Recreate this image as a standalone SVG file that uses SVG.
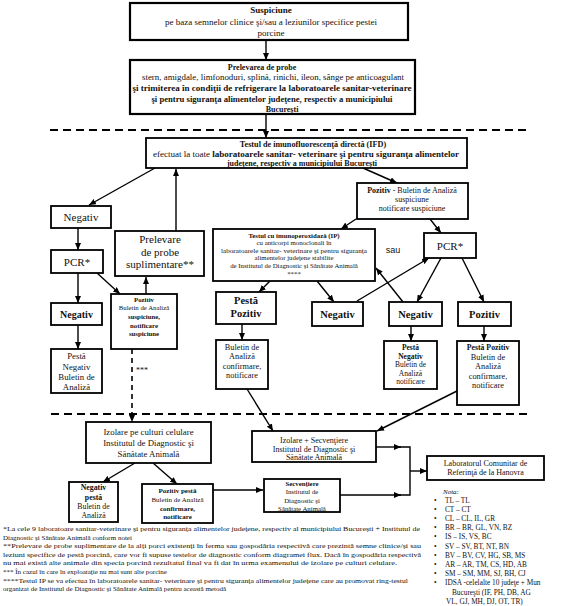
<svg xmlns="http://www.w3.org/2000/svg" width="565" height="606" viewBox="0 0 565 606">
<style>
.bx{fill:#fff;stroke:#000;stroke-width:1.8}
.bx2{fill:#fff;stroke:#000;stroke-width:2.2}
.t{font-family:"Liberation Serif","Times New Roman",serif;fill:#111;text-anchor:middle}
.s{font-family:"Liberation Sans",Arial,sans-serif;fill:#111;text-anchor:middle}
.l{text-anchor:start}
.b{font-weight:bold}
.c{stroke:#000;stroke-width:1.4;fill:none;marker-end:url(#ah)}
.p{stroke:#000;stroke-width:1.4;fill:none}
.d{stroke:#000;stroke-width:2;stroke-dasharray:8 5;fill:none}
.dv{stroke:#000;stroke-width:1.6;stroke-dasharray:5 4;fill:none;marker-end:url(#ah)}
</style>
<defs>
<marker id="ah" markerWidth="7" markerHeight="6" refX="7" refY="3" orient="auto" markerUnits="userSpaceOnUse">
<path d="M0,0 L7,3 L0,6 z" fill="#000"/>
</marker>
</defs>
<rect width="565" height="606" fill="#fff"/>

<g id="connectors">
<line class="c" x1="266" y1="40" x2="266" y2="60"/>
<line class="c" x1="266" y1="114" x2="266" y2="138"/>
<line class="d" x1="50" y1="130" x2="527" y2="130"/>
<line class="c" x1="155" y1="168" x2="89" y2="205"/>
<line class="c" x1="363" y1="168" x2="397" y2="183"/>
<line class="c" x1="176" y1="231" x2="176" y2="169"/>
<line class="c" x1="356" y1="219" x2="341" y2="229"/>
<line class="c" x1="430" y1="219" x2="441" y2="233"/>
<line class="c" x1="78" y1="228" x2="78" y2="250"/>
<line class="c" x1="78" y1="273" x2="78" y2="303"/>
<line class="c" x1="97" y1="273" x2="120" y2="294"/>
<line class="c" x1="146" y1="294" x2="146" y2="277"/>
<line class="c" x1="78" y1="325" x2="78" y2="349"/>
<line class="dv" x1="132" y1="349" x2="132" y2="422"/>
<line class="c" x1="270" y1="281" x2="259" y2="292"/>
<line class="c" x1="242" y1="324" x2="242" y2="340"/>
<line class="c" x1="317" y1="281" x2="334" y2="302"/>
<line class="c" x1="357" y1="301" x2="429" y2="258"/>
<line class="c" x1="403" y1="302" x2="376" y2="268"/>
<line class="c" x1="441" y1="258" x2="417" y2="302"/>
<line class="c" x1="462" y1="258" x2="484" y2="302"/>
<line class="c" x1="411" y1="326" x2="411" y2="341"/>
<line class="c" x1="484" y1="326" x2="484" y2="341"/>
<line class="c" x1="457" y1="391" x2="377" y2="431"/>
<line class="c" x1="247" y1="389" x2="273" y2="431"/>
<line class="d" x1="51" y1="414" x2="528" y2="414"/>
<line class="c" x1="135" y1="463" x2="103" y2="482"/>
<line class="c" x1="153" y1="463" x2="177" y2="484"/>
<line class="c" x1="213" y1="490" x2="263" y2="490"/>
<line class="c" x1="376" y1="447" x2="401" y2="447"/>
<line class="c" x1="340" y1="495" x2="401" y2="495"/>
<polyline class="p" points="398,447 410,447 410,495 398,495"/>
<line class="c" x1="410" y1="471" x2="427" y2="471"/>
<text class="t" x="142" y="373" font-size="8">***</text>
<text class="s" x="393" y="253" font-size="9">sau</text>
</g>

<g id="suspiciune">
<rect class="bx2" x="130" y="3" width="278" height="37"/>
<text class="t b" x="271" y="13" font-size="9">Suspiciune</text>
<text class="t" x="271" y="25" font-size="9">pe baza semnelor clinice şi/sau a leziunilor  specifice pestei</text>
<text class="t" x="271" y="36" font-size="9">porcine</text>
</g>

<g id="prelevarea">
<rect class="bx2" x="130" y="60" width="285" height="54"/>
<text class="t b" x="262" y="70" font-size="8">Prelevarea de probe</text>
<text class="t" x="273" y="80" font-size="8" textLength="262" lengthAdjust="spacingAndGlyphs">stern, amigdale, limfonoduri, splină, rinichi, ileon, sânge pe anticoagulant</text>
<text class="t b" x="272" y="91" font-size="8" textLength="279" lengthAdjust="spacingAndGlyphs">şi trimiterea în condiţii de refrigerare la laboratoarele sanitar-veterinare</text>
<text class="t b" x="272" y="102" font-size="8" textLength="241" lengthAdjust="spacingAndGlyphs">şi pentru siguranţa alimentelor judeţene, respectiv a municipiului</text>
<text class="t b" x="282" y="112" font-size="8">Bucureşti</text>
</g>

<g id="ifd">
<rect class="bx" x="146" y="138" width="321" height="30"/>
<text class="t b" x="313" y="147" font-size="8.2">Testul de imunofluorescenţă directă (IFD)</text>
<text class="t l" x="153" y="156.5" font-size="8" textLength="306" lengthAdjust="spacingAndGlyphs">efectuat la toate <tspan class="b">laboratoarele sanitar- veterinare şi pentru siguranţa alimentelor</tspan></text>
<text class="t b" x="302" y="166" font-size="8">judeţene, respectiv a municipiului Bucureşti</text>
</g>

<g id="negativ1">
<rect class="bx" x="51" y="206" width="60" height="22"/>
<text class="t" x="81" y="221" font-size="11">Negativ</text>
</g>

<g id="pozitiv1">
<rect class="bx" x="357" y="183" width="111" height="36"/>
<text class="t" x="412" y="193" font-size="8"><tspan class="b">Pozitiv</tspan>  - Buletin de Analiză</text>
<text class="t" x="412" y="202" font-size="8">suspiciune</text>
<text class="t" x="412" y="211" font-size="8">notificare suspiciune</text>
</g>

<g id="prelevare-suplimentare">
<rect class="bx" x="115" y="231" width="89" height="45"/>
<text class="t" x="160" y="243" font-size="11">Prelevare</text>
<text class="t" x="160" y="256" font-size="11">de probe</text>
<text class="t" x="160" y="268" font-size="11">suplimentare**</text>
</g>

<g id="pcr1">
<rect class="bx" x="51" y="250" width="52" height="23"/>
<text class="t" x="77" y="266" font-size="11">PCR*</text>
</g>

<g id="ip">
<rect class="bx" x="213" y="229" width="162" height="52"/>
<text class="t b" x="294" y="237.5" font-size="6.8">Testul cu imunoperoxidază (IP)</text>
<text class="t" x="294" y="245" font-size="6.8">cu anticorpi monoclonali în</text>
<text class="t" x="294" y="252.5" font-size="6.8" textLength="146" lengthAdjust="spacingAndGlyphs">laboratoarele sanitar- veterinare şi pentru siguranţa</text>
<text class="t" x="294" y="260" font-size="6.8">alimentelor judeţene stabilite</text>
<text class="t" x="294" y="268" font-size="6.8">de Institutul de Diagnostic şi Sănătate Animală</text>
<text class="t" x="294" y="276" font-size="6.8">****</text>
</g>

<g id="pcr2">
<rect class="bx" x="424" y="233" width="52" height="25"/>
<text class="t" x="450" y="250" font-size="11">PCR*</text>
</g>

<g id="negativ2">
<rect class="bx" x="51" y="303" width="51" height="22"/>
<text class="t b" x="76.5" y="318" font-size="10">Negativ</text>
</g>

<g id="pozitiv-suspiciune">
<rect class="bx" x="111" y="294" width="66" height="55"/>
<text class="t b" x="144" y="302" font-size="6.8">Pozitiv</text>
<text class="t" x="144" y="310" font-size="6.8">Buletin de Analiză</text>
<text class="t b" x="144" y="318.5" font-size="6.8">suspiciune,</text>
<text class="t b" x="144" y="327.5" font-size="6.8">notificare</text>
<text class="t b" x="144" y="335.5" font-size="6.8">suspiciune</text>
</g>

<g id="pesta-negativ1">
<rect class="bx" x="51" y="349" width="51" height="44"/>
<text class="t" x="76.5" y="359" font-size="8.8">Pestă</text>
<text class="t" x="76.5" y="369.5" font-size="8.8">Negativ</text>
<text class="t" x="76.5" y="379.5" font-size="8.8">Buletin de</text>
<text class="t" x="76.5" y="389.5" font-size="8.8">Analiză</text>
</g>

<g id="pesta-pozitiv1">
<rect class="bx" x="216" y="292" width="60" height="32"/>
<text class="t b" x="246" y="304" font-size="10.5">Pestă</text>
<text class="t b" x="246" y="316.5" font-size="10.5">Pozitiv</text>
</g>

<g id="buletin-confirmare1">
<rect class="bx" x="216" y="340" width="52" height="49"/>
<text class="t" x="242" y="350" font-size="8.3">Buletin de</text>
<text class="t" x="242" y="359" font-size="8.3">Analiză</text>
<text class="t" x="242" y="369" font-size="8.3">confirmare,</text>
<text class="t" x="242" y="378" font-size="8.3">notificare</text>
</g>

<g id="negativ-a">
<rect class="bx" x="312" y="302" width="51" height="24"/>
<text class="t b" x="337.5" y="318" font-size="10.5">Negativ</text>
</g>

<g id="negativ-b">
<rect class="bx" x="389" y="302" width="53" height="24"/>
<text class="t b" x="415.5" y="318" font-size="10.5">Negativ</text>
</g>

<g id="pozitiv2">
<rect class="bx" x="458" y="302" width="53" height="24"/>
<text class="t b" x="484.5" y="318" font-size="10.5">Pozitiv</text>
</g>

<g id="pesta-negativ2">
<rect class="bx" x="384" y="341" width="53" height="48"/>
<text class="t b" x="410.5" y="350" font-size="7.5">Pestă</text>
<text class="t b" x="410.5" y="358.5" font-size="7.5">Negativ</text>
<text class="t" x="410.5" y="367" font-size="7.5">Buletin de</text>
<text class="t" x="410.5" y="375.5" font-size="7.5">Analiză</text>
<text class="t" x="410.5" y="384" font-size="7.5">notificare</text>
</g>

<g id="pesta-pozitiv2">
<rect class="bx" x="457" y="341" width="62" height="64"/>
<text class="t b" x="488" y="350" font-size="7.8">Pestă Pozitiv</text>
<text class="t" x="488" y="360" font-size="8.3">Buletin de</text>
<text class="t" x="488" y="369" font-size="8.3">Analiză</text>
<text class="t" x="488" y="379" font-size="8.3">confirmare,</text>
<text class="t" x="488" y="388" font-size="8.3">notificare</text>
</g>

<g id="izolare-culturi">
<rect class="bx" x="86" y="422" width="125" height="41"/>
<text class="t" x="148.5" y="435" font-size="8.8">Izolare pe culturi celulare</text>
<text class="t" x="148.5" y="446" font-size="8.8">Institutul de Diagnostic şi</text>
<text class="t" x="148.5" y="456.5" font-size="8.8">Sănătate Animală</text>
</g>

<g id="izolare-secventiere">
<rect class="bx" x="252" y="431" width="124" height="31"/>
<text class="t" x="314" y="443" font-size="8">Izolare + Secvenţiere</text>
<text class="t" x="314" y="451.5" font-size="8">Institutul de Diagnostic şi</text>
<text class="t" x="314" y="460" font-size="8">Sănătate Animală</text>
</g>

<g id="negativ-pesta">
<rect class="bx" x="69" y="482" width="49" height="40"/>
<text class="t b" x="93.5" y="490" font-size="7.8">Negativ</text>
<text class="t b" x="93.5" y="499.5" font-size="7.8">pestă</text>
<text class="t" x="93.5" y="509" font-size="7.8">Buletin de</text>
<text class="t" x="93.5" y="518" font-size="7.8">Analiză</text>
</g>

<g id="pozitiv-pesta">
<rect class="bx" x="142" y="484" width="71" height="39"/>
<text class="t b" x="177.5" y="493" font-size="7">Pozitiv pestă</text>
<text class="t" x="177.5" y="501.5" font-size="7">Buletin de Analiză</text>
<text class="t b" x="177.5" y="510.5" font-size="7">confirmare,</text>
<text class="t b" x="177.5" y="519" font-size="7">notificare</text>
</g>

<g id="secventiere">
<rect class="bx" x="264" y="479" width="76" height="33"/>
<text class="t b" x="302" y="486" font-size="6.8">Secvenţiere</text>
<text class="t" x="302" y="494" font-size="6.8">Institutul de</text>
<text class="t" x="302" y="502.5" font-size="6.8">Diagnostic şi</text>
<text class="t" x="302" y="510.5" font-size="6.8">Sănătate Animală</text>
</g>

<g id="laborator-hanovra">
<rect class="bx" x="427" y="456" width="117" height="24"/>
<text class="t" x="485.5" y="465.5" font-size="8">Laboratorul Comunitar de</text>
<text class="t" x="485.5" y="475" font-size="8">Referinţă de la Hanovra</text>
</g>

<g id="nota">
<text class="t l" x="443" y="494" font-style="italic" font-size="7">Nota:</text>
<text class="t l" x="434" y="502.5" font-size="7.3">•</text><text class="t l" x="445" y="502.5" font-size="7.3">TL – TL</text>
<text class="t l" x="434" y="511.7" font-size="7.3">•</text><text class="t l" x="445" y="511.7" font-size="7.3">CT – CT</text>
<text class="t l" x="434" y="520.9" font-size="7.3">•</text><text class="t l" x="445" y="520.9" font-size="7.3">CL – CL, IL, GR</text>
<text class="t l" x="434" y="530.1" font-size="7.3">•</text><text class="t l" x="445" y="530.1" font-size="7.3">BR – BR, GL, VN, BZ</text>
<text class="t l" x="434" y="539.3" font-size="7.3">•</text><text class="t l" x="445" y="539.3" font-size="7.3">IS – IS, VS, BC</text>
<text class="t l" x="434" y="548.5" font-size="7.3">•</text><text class="t l" x="445" y="548.5" font-size="7.3">SV – SV, BT, NT, BN</text>
<text class="t l" x="434" y="557.7" font-size="7.3">•</text><text class="t l" x="445" y="557.7" font-size="7.3">BV – BV, CV, HG, SB, MS</text>
<text class="t l" x="434" y="566.9" font-size="7.3">•</text><text class="t l" x="445" y="566.9" font-size="7.3">AR – AR, TM, CS, HD, AB</text>
<text class="t l" x="434" y="576.1" font-size="7.3">•</text><text class="t l" x="445" y="576.1" font-size="7.3">SM – SM, MM, SJ, BH, CJ</text>
<text class="t l" x="434" y="585.3" font-size="7.3">•</text><text class="t l" x="445" y="585.3" font-size="7.3">IDSA -celelalte 10 judeţe + Mun</text>
<text class="t l" x="452" y="594.5" font-size="7.3">Bucureşti  (IF,  PH,  DB, AG</text>
<text class="t l" x="446" y="603.7" font-size="7.3">VL, GJ, MH, DJ, OT, TR)</text>
</g>

<g id="footnotes">
<text class="t l" x="3" y="531" font-size="7" textLength="417" lengthAdjust="spacingAndGlyphs">*La cele 9 laboratoare sanitar-veterinare şi pentru siguranţa alimentelor judeţene, respectiv al municipiului Bucureşti + Institutul de</text>
<text class="t l" x="3" y="539.5" font-size="7">Diagnostic şi Sănătate Animală conform notei</text>
<text class="t l" x="3" y="548" font-size="7" textLength="418" lengthAdjust="spacingAndGlyphs">**Prelevare de probe suplimentare de la alţi porci existenţi în ferma sau gospodăria respectivă care prezintă semne clinice/şi sau</text>
<text class="t l" x="3" y="556.5" font-size="7" textLength="418" lengthAdjust="spacingAndGlyphs">leziuni specifice de pestă porcină, care vor fi supuse testelor de diagnostic conform diagramei flux. Dacă în gospodăria respectivă</text>
<text class="t l" x="3" y="565" font-size="7" textLength="394" lengthAdjust="spacingAndGlyphs">nu mai există  alte animale din specia porcină rezultatul final va fi dat în urma examenului de izolare pe culturi celulare.</text>
<text class="t l" x="3" y="573.5" font-size="7">*** În cazul în care în exploataţie nu mai sunt alte porcine</text>
<text class="t l" x="3" y="582.5" font-size="7" textLength="405" lengthAdjust="spacingAndGlyphs">****Testul IP se va efectua în laboratoarele sanitar- veterinare şi pentru siguranţa alimentelor judeţene care au promovat ring-testul</text>
<text class="t l" x="3" y="591" font-size="7">organizat de Institutul de Diagnostic şi Sănătate Animală pentru această metodă</text>
</g>
</svg>
